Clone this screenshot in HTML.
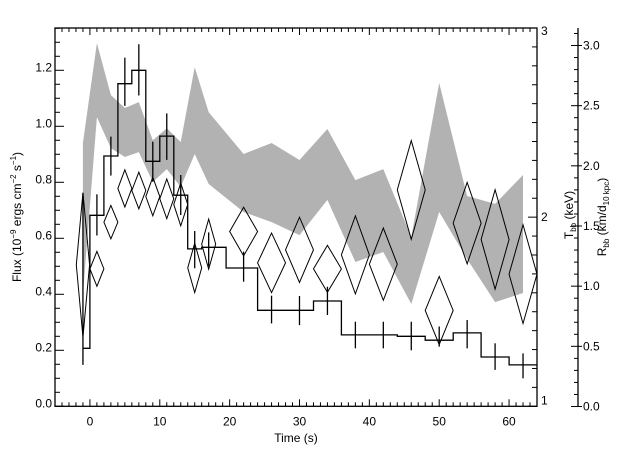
<!DOCTYPE html>
<html><head><meta charset="utf-8"><style>
html,body{margin:0;padding:0;background:#fff;}
svg{display:block;font-family:"Liberation Sans",sans-serif;}
text{fill:#000;font-size:12px;}
</style></head><body>
<svg id="chart" width="640" height="457" viewBox="0 0 640 457" xmlns="http://www.w3.org/2000/svg">
<g id="band"></g>
<g id="steps"></g>
<g id="diamonds"></g>
<g id="axes"></g>
<text x="296" y="442" text-anchor="middle">Time (s)</text>
<text transform="translate(21,217) rotate(-90)" text-anchor="middle">Flux (10<tspan dy="-5" font-size="8">−9</tspan><tspan dy="5"> ergs cm</tspan><tspan dy="-5" font-size="8">−2</tspan><tspan dy="5"> s</tspan><tspan dy="-5" font-size="8">−1</tspan><tspan dy="5">)</tspan></text>
<text transform="translate(573,215) rotate(-90)" text-anchor="middle">T<tspan dy="3" font-size="8">bb</tspan><tspan dy="-3"> (keV)</tspan></text>
<text transform="translate(606,217) rotate(-90)" text-anchor="middle">R<tspan dy="3" font-size="8">bb</tspan><tspan dy="-3"> (km/d</tspan><tspan dy="3" font-size="8">10 kpc</tspan><tspan dy="-3">)</tspan></text>
</svg>
<script>
// Flux histogram
const binEdges = [-1,0,2,4,6,8,10,12,14,16,19.5,24,32,36,44,48,52,56,60,64];
const fluxValues = [0.207,0.682,0.894,1.152,1.2,0.875,0.965,0.754,0.562,0.568,0.494,0.343,0.376,0.255,0.25,0.236,0.262,0.176,0.148];
const errTimes = [-1,1,3,5,7,9,11,13,15,17,22,26,30,34,38,42,46,50,54,58,62];
const errHi = [0.761,0.757,0.963,1.245,1.293,0.945,1.046,0.826,0.626,0.621,0.552,0.395,0.394,0.427,0.302,0.302,0.302,0.285,0.308,0.225,0.189];
const errLo = [0.148,0.61,0.824,1.073,1.11,0.802,0.88,0.683,0.493,0.499,0.445,0.296,0.29,0.326,0.207,0.207,0.2,0.213,0.207,0.13,0.1];
// Temperature band (keV)
const bandTimes = [-1,1,3,5,7,9,11,13,15,17,22,26,30,34,38,42,46,50,54,58,62];
const tempUpper = [2.392,2.92,2.645,2.577,2.608,2.407,2.47,2.397,2.793,2.555,2.334,2.392,2.302,2.466,2.196,2.254,1.895,2.709,2.112,2.07,2.223];
const tempLower = [1.588,2.529,2.365,2.318,2.344,2.186,2.254,2.16,2.334,2.175,2.027,1.974,1.905,2.091,1.763,1.816,1.541,2.027,1.779,1.551,1.599];
// Radius diamonds (km/d10kpc)
const radTimes = [-1,1,3,5,7,9,11,13,15,17,22,26,30,34,38,42,46,50,54,58,62];
const radHalfWidth = [0.95,1,1,1,1,1,1,1,1,1,2,2,2,2,2,2,2,2,2,2,2];
const radValues = [1.177,1.144,1.532,1.812,1.795,1.745,1.726,1.679,1.152,1.349,1.454,1.194,1.302,1.144,1.26,1.183,1.80,0.798,1.524,1.388,1.10];
const radErr = [0.60,0.145,0.139,0.155,0.152,0.16,0.165,0.177,0.205,0.208,0.202,0.247,0.271,0.195,0.324,0.30,0.41,0.283,0.338,0.413,0.41];
const xTickLabels = [0,10,20,30,40,50,60];
const yTickLabels = ["0.0","0.2","0.4","0.6","0.8","1.0","1.2"];
const tTickLabels = [1,2,3];
const rTickLabels = ["0.0","0.5","1.0","1.5","2.0","2.5","3.0"];

const L=55,R=537,T=28,B=406.3;
const X0=-5,X1=64, F1=1.351;
const sx=t=>L+(t-X0)/(X1-X0)*(R-L);
const sy=f=>B-f/F1*(B-T);
const st=k=>B-(k-1)/2*(B-T);
const sr=r=>B-r*(1219.5/3-403.3+0)/1; // placeholder replaced below
const RPX=361/3;
const srr=r=>406.5-r*RPX;
const NS="http://www.w3.org/2000/svg";
function mk(tag,parent,attrs){const e=document.createElementNS(NS,tag);for(const k in attrs)e.setAttribute(k,attrs[k]);parent.appendChild(e);return e;}

// band
const band=document.getElementById('band');
let pts=[];
bandTimes.forEach((t,i)=>pts.push(sx(t).toFixed(1)+','+st(tempUpper[i]).toFixed(1)));
for(let i=bandTimes.length-1;i>=0;i--)pts.push(sx(bandTimes[i]).toFixed(1)+','+st(tempLower[i]).toFixed(1));
const poly=mk('polygon',band,{points:pts.join(' '),fill:'#b2b2b2',stroke:'none'});



// steps
const steps=document.getElementById('steps');
let d='';
fluxValues.forEach((f,i)=>{const x0=sx(binEdges[i]),x1=sx(binEdges[i+1]),y=sy(f);d+=(i===0?'M':'L')+x0.toFixed(1)+','+y.toFixed(1)+'L'+x1.toFixed(1)+','+y.toFixed(1);});
const sp=mk('path',steps,{d:d,fill:'none',stroke:'#000','stroke-width':1.3});


errTimes.forEach((t,i)=>{
  const l=mk('line',steps,{x1:sx(t),x2:sx(t),y1:sy(errHi[i]),y2:sy(errLo[i]),stroke:'#000','stroke-width':1.3});
  
  
});

// diamonds
const dg=document.getElementById('diamonds');
radTimes.forEach((t,i)=>{
  const cx=sx(t),cy=srr(radValues[i]),hw=radHalfWidth[i]*(R-L)/(X1-X0),hh=radErr[i]*RPX;
  const p=mk('polygon',dg,{points:`${cx-hw},${cy} ${cx},${cy-hh} ${cx+hw},${cy} ${cx},${cy+hh}`,fill:'none',stroke:'#000','stroke-width':1});
  
  
});

// axes
const ax=document.getElementById('axes');
const frame=mk('rect',ax,{x:L,y:T,width:R-L,height:B-T,fill:'none',stroke:'#000','stroke-width':1.3});


for(let t=-5;t<=64;t++){
  const x=sx(t),len=(t%10===0)?7:4;
  mk('line',ax,{x1:x,x2:x,y1:B,y2:B-len,stroke:'#000'});
  mk('line',ax,{x1:x,x2:x,y1:T,y2:T+len,stroke:'#000'});
}
xTickLabels.forEach(v=>{const e=mk('text',ax,{x:sx(v),y:B+19,'text-anchor':'middle'});e.textContent=v;
  
  });
for(let k=0;k<=27;k++){const f=k*0.05,y=sy(f),len=(k%4===0)?9:5;mk('line',ax,{x1:L,x2:L+len,y1:y,y2:y,stroke:'#000'});}
yTickLabels.forEach(v=>{const e=mk('text',ax,{x:L-3,y:sy(+v)+1,'text-anchor':'end'});e.textContent=v;
  
  });
for(let k=0;k<=20;k++){const y=st(1+k*0.1),len=(k%10===0)?9:5;mk('line',ax,{x1:R,x2:R-len,y1:y,y2:y,stroke:'#000'});}
tTickLabels.forEach(v=>{const yy=v===1?B-2:(v===3?T+7:st(v)+4);const e=mk('text',ax,{x:R+4,y:yy});e.textContent=v;
  
  });
const RX=578;
const rl=mk('line',ax,{x1:RX,x2:RX,y1:T,y2:B,stroke:'#000','stroke-width':1.3});


for(let k=0;k<=31;k++){const y=srr(k*0.1),maj=(k%5===0);mk('line',ax,{x1:RX-(maj?7:4),x2:RX+(maj?4:0),y1:y,y2:y,stroke:'#000'});}
rTickLabels.forEach(v=>{const e=mk('text',ax,{x:RX+5,y:srr(+v)+4});e.textContent=v;
  
  });
</script>
</body></html>
